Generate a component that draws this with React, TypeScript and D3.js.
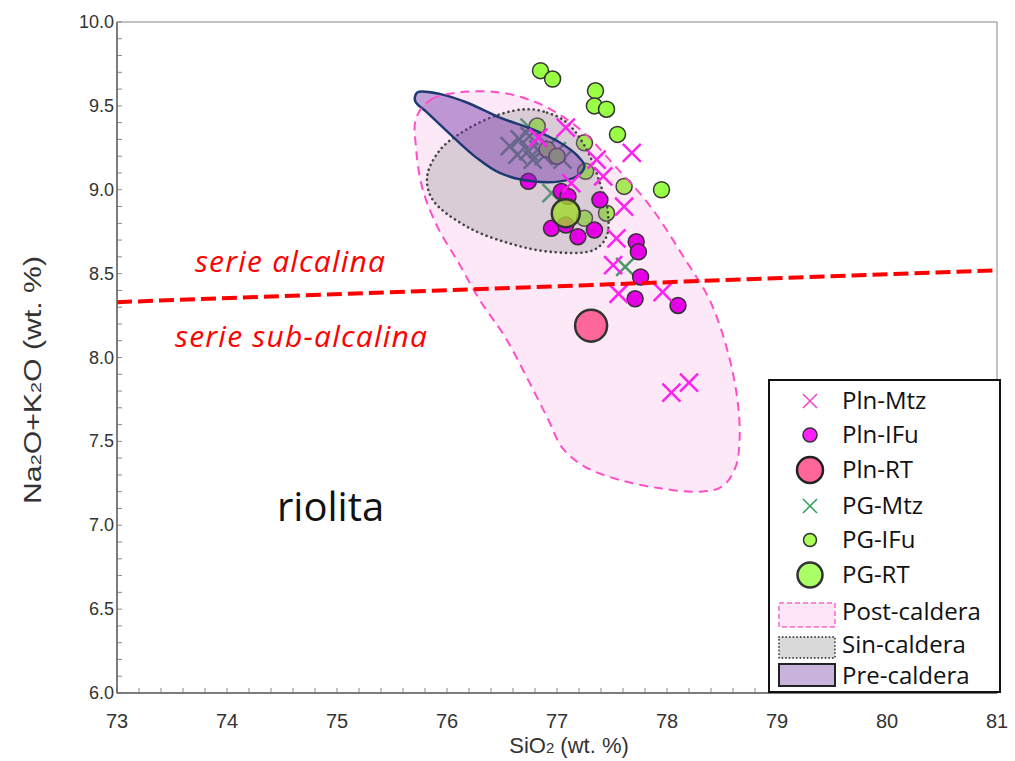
import * as d3 from "d3";

const W = 1015;
const H = 761;
const plot = { left: 117, right: 997, top: 22, bottom: 693 };

const xTickValues = [73, 74, 75, 76, 77, 78, 79, 80, 81];
const yTickValues = [6.0, 6.5, 7.0, 7.5, 8.0, 8.5, 9.0, 9.5, 10.0];

// SiO2, Na2O+K2O pairs
const plnMtz: [number, number][] = [
  [76.83, 9.31], [77.08, 9.37], [77.36, 9.18], [77.42, 9.08], [77.13, 9.04],
  [77.68, 9.22], [77.61, 8.9], [77.54, 8.71], [77.51, 8.55], [77.56, 8.38],
  [77.96, 8.39], [78.04, 7.79], [78.2, 7.85],
];
const plnIFu: [number, number][] = [
  [76.74, 9.05], [77.04, 8.99], [77.1, 8.96], [77.39, 8.94], [76.95, 8.77],
  [77.08, 8.79], [77.19, 8.72], [77.34, 8.76], [77.72, 8.69], [77.74, 8.63],
  [77.76, 8.48], [77.71, 8.35], [78.1, 8.31],
];
const plnRT: [number, number][] = [[77.31, 8.19]];
const pgMtz: [number, number][] = [
  [76.57, 9.26], [76.66, 9.3], [76.75, 9.32], [76.64, 9.21], [76.74, 9.23],
  [76.83, 9.24], [76.92, 9.26], [76.78, 9.18], [76.88, 9.2], [77.0, 9.23],
  [77.05, 9.18], [76.75, 9.37], [76.95, 8.98], [77.62, 8.54],
];
const pgIFu: [number, number][] = [
  [76.85, 9.71], [76.96, 9.66], [77.35, 9.59], [77.34, 9.5], [77.45, 9.48],
  [77.55, 9.33], [77.25, 9.28], [76.82, 9.38], [77.95, 9.0], [77.61, 9.02],
  [77.45, 8.86], [77.26, 9.11], [77.25, 8.83], [76.91, 9.24], [77.0, 9.2],
];
const pgRT: [number, number][] = [[77.08, 8.86]];

// fields
const postCaldera: [number, number][] = [
  [75.72, 9.43], [75.86, 9.54], [76.1, 9.58], [76.48, 9.58], [76.85, 9.51],
  [77.21, 9.36], [77.53, 9.14], [77.85, 8.9], [78.16, 8.59], [78.39, 8.34],
  [78.55, 8.04], [78.64, 7.75], [78.66, 7.51], [78.62, 7.34], [78.5, 7.23],
  [78.3, 7.2], [77.94, 7.22], [77.57, 7.27], [77.25, 7.35], [77.05, 7.46],
  [76.92, 7.63], [76.75, 7.85], [76.53, 8.12], [76.3, 8.34], [76.1, 8.57],
  [75.92, 8.77], [75.78, 9.0], [75.72, 9.24],
];
const sinCaldera: [number, number][] = [
  [76.73, 9.48], [76.91, 9.46], [77.09, 9.4], [77.27, 9.24], [77.39, 9.04],
  [77.46, 8.88], [77.45, 8.72], [77.33, 8.64], [76.94, 8.63], [76.57, 8.68],
  [76.18, 8.78], [75.87, 8.94], [75.82, 9.08], [75.94, 9.24], [76.18, 9.36],
  [76.48, 9.45],
];
const preCaldera: [number, number][] = [
  [75.73, 9.58], [75.94, 9.57], [76.18, 9.52], [76.48, 9.43], [76.78, 9.36],
  [77.03, 9.28], [77.19, 9.2], [77.25, 9.14], [77.18, 9.08], [77.03, 9.05],
  [76.78, 9.05], [76.48, 9.1], [76.27, 9.19], [76.03, 9.33], [75.82, 9.46],
  [75.71, 9.53],
];
const alkalineLine: [number, number][] = [[73, 8.33], [81, 8.52]];

const legendItems = ["Pln-Mtz", "Pln-IFu", "Pln-RT", "PG-Mtz", "PG-IFu", "PG-RT", "Post-caldera", "Sin-caldera", "Pre-caldera"];

const axisFont = "'Liberation Sans', Arial, sans-serif";
const textFont = "'Open Sans', sans-serif";

const cross = (s: number) => `M${-s},${-s}L${s},${s}M${-s},${s}L${s},${-s}`;

export default function App() {
  const x = d3.scaleLinear().domain([73, 81]).range([plot.left, plot.right]);
  const y = d3.scaleLinear().domain([6, 10]).range([plot.bottom, plot.top]);
  const field = d3
    .line<[number, number]>()
    .x((d) => x(d[0]))
    .y((d) => y(d[1]))
    .curve(d3.curveCatmullRomClosed.alpha(0.5));
  const straight = d3
    .line<[number, number]>()
    .x((d) => x(d[0]))
    .y((d) => y(d[1]));

  const xMinor = d3.range(73, 81.001, 0.2);
  const yMinor = d3.range(6, 10.001, 0.1);

  const crosses = (data: [number, number][], color: string, key: string) =>
    data.map((d, i) => (
      <path key={key + i} d={cross(9)} transform={`translate(${x(d[0])},${y(d[1])})`} stroke={color} strokeWidth={2.5} fill="none" />
    ));
  const dots = (data: [number, number][], r: number, fill: string, sw: number, key: string, op = 1) =>
    data.map((d, i) => (
      <circle key={key + i} cx={x(d[0])} cy={y(d[1])} r={r} fill={fill} fillOpacity={op} stroke="#333" strokeWidth={sw} />
    ));

  const lx = 810;
  const rowY = [401, 435, 470, 506, 540, 575, 612, 645, 676];

  return (
    <svg width={W} height={H} style={{ position: "absolute", left: 0, top: 0, background: "#fff" }}>
      {/* frame */}
      <rect x={plot.left} y={plot.top} width={plot.right - plot.left} height={plot.bottom - plot.top} fill="#fff" stroke="#888" strokeWidth={1} />

      {/* PG data sits under the fields */}
      {crosses(pgMtz, "#2aa05a", "pgm")}
      {dots(pgIFu, 8, "#99ff44", 1.5, "pgi")}

      {/* fields */}
      <path d={field(postCaldera) ?? ""} fill="#f266ca" fillOpacity={0.15} stroke="none" />
      <path d={field(sinCaldera) ?? ""} fill="#8c8c8c" fillOpacity={0.3} stroke="#444" strokeWidth={2.6} strokeDasharray="0.1 5" strokeLinecap="round" />
      {dots(plnIFu, 8, "#e600e6", 1.5, "pli")}
      {dots(pgRT, 14, "#a0d82a", 2.5, "pgr", 0.8)}
      <path d={field(preCaldera) ?? ""} fill="#7434a8" fillOpacity={0.45} stroke="#1f3a73" strokeWidth={2.5} />
      {crosses(plnMtz, "#ff22ee", "plm")}
      {dots(plnRT, 16, "#ff6699", 2.5, "plr")}
      <path d={field(postCaldera) ?? ""} fill="none" stroke="#ff4fc8" strokeWidth={2} strokeDasharray="9 6" />

      {/* alkaline / sub-alkaline divide */}
      <path d={straight(alkalineLine) ?? ""} stroke="#ff0000" strokeWidth={4} strokeDasharray="15 6" fill="none" />
      <text x={195} y={272} fill="#ff0000" fontFamily={textFont} fontStyle="italic" fontSize={30} textLength={190}>serie alcalina</text>
      <text x={175} y={347} fill="#ff0000" fontFamily={textFont} fontStyle="italic" fontSize={30} textLength={252}>serie sub-alcalina</text>
      <text x={277} y={521} fill="#111" fontFamily={textFont} fontSize={40}>riolita</text>

      {/* ticks */}
      {xMinor.map((v, i) => (
        <line key={"xt" + i} x1={x(v)} x2={x(v)} y1={plot.bottom} y2={plot.bottom - 5} stroke="#888" />
      ))}
      {yMinor.map((v, i) => (
        <line key={"yt" + i} x1={plot.left} x2={plot.left + 5} y1={y(v)} y2={y(v)} stroke="#888" />
      ))}
      <line x1={plot.left} x2={plot.right} y1={plot.bottom} y2={plot.bottom} stroke="#666" strokeWidth={1.5} />
      <line x1={plot.left} x2={plot.left} y1={plot.top} y2={plot.bottom} stroke="#666" strokeWidth={1.5} />
      {xTickValues.map((v) => (
        <text key={"xl" + v} x={x(v)} y={728} textAnchor="middle" fontFamily={axisFont} fontSize={20} fill="#333">{v}</text>
      ))}
      {yTickValues.map((v) => (
        <text key={"yl" + v} x={114} y={y(v) + 6} textAnchor="end" fontFamily={axisFont} fontSize={18} fill="#333">{v.toFixed(1)}</text>
      ))}
      <text x={569} y={753} textAnchor="middle" fontFamily={axisFont} fontSize={22} fill="#333">
        SiO<tspan fontSize={15}>2</tspan> (wt. %)
      </text>
      <text transform="translate(41,380) rotate(-90)" x={-124} fontFamily={axisFont} fontSize={23} fill="#333" textLength={248} lengthAdjust="spacingAndGlyphs">
        Na<tspan fontSize={15}>2</tspan>O+K<tspan fontSize={15}>2</tspan>O (wt. %)
      </text>

      {/* legend */}
      <rect x={769} y={380} width={231} height={312} fill="#fff" stroke="#111" strokeWidth={2} />
      <path d={cross(7)} transform={`translate(${lx},${rowY[0]})`} stroke="#ee44cc" strokeWidth={1.5} fill="none" />
      <circle cx={lx} cy={rowY[1]} r={7} fill="#ff22ff" stroke="#333" strokeWidth={1.5} />
      <circle cx={lx} cy={rowY[2]} r={13} fill="#ff6699" stroke="#222" strokeWidth={2.5} />
      <path d={cross(7)} transform={`translate(${lx},${rowY[3]})`} stroke="#2aa05a" strokeWidth={1.5} fill="none" />
      <circle cx={lx} cy={rowY[4]} r={6.5} fill="#aaff55" stroke="#333" strokeWidth={1.5} />
      <circle cx={lx} cy={rowY[5]} r={12.5} fill="#aaff66" stroke="#333" strokeWidth={2.5} />
      <rect x={779} y={603} width={56} height={24} fill="#fde6f6" stroke="#ff66cc" strokeWidth={1.5} strokeDasharray="5 3" />
      <rect x={779} y={637} width={56} height={21} fill="#d9d9d9" stroke="#444" strokeWidth={1.8} strokeDasharray="0.1 3.5" strokeLinecap="round" />
      <rect x={779} y={664} width={56} height={22} fill="#c8b3dc" stroke="#222" strokeWidth={2} />
      {legendItems.map((t, i) => (
        <text key={t} x={842} y={rowY[i] + 8} fontFamily={textFont} fontSize={24} fill="#111">{t}</text>
      ))}
    </svg>
  );
}
